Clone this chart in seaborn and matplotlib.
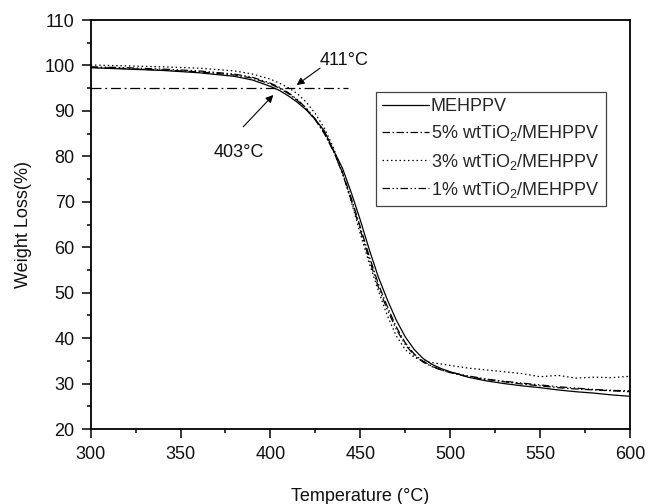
import numpy as np
import pandas as pd
import matplotlib
matplotlib.use("Agg")
import matplotlib.pyplot as plt
from matplotlib.ticker import MultipleLocator
import seaborn as sns

# ---- data ----
temperature = [300, 320, 340, 360, 380, 390, 400, 405, 410, 415, 420, 425, 430, 435,
               440, 445, 450, 455, 460, 465, 470, 475, 480, 485, 490, 495, 500,
               510, 520, 530, 540, 550, 560, 570, 580, 590, 600]

mehppv = [99.5, 99.2, 98.9, 98.4, 97.6, 96.8, 95.4, 94.5, 93.3, 91.9, 90.2, 88.1, 85.6, 81.4,
          77.5, 72.0, 66.0, 59.5, 53.5, 48.5, 44.0, 40.3, 37.5, 35.5, 34.2, 33.3, 32.6,
          31.4, 30.6, 30.0, 29.5, 29.1, 28.6, 28.2, 27.9, 27.5, 27.2]

tio2_5 = [99.6, 99.3, 99.0, 98.6, 97.9, 97.2, 95.9, 95.0, 93.8, 92.3, 90.4, 88.0, 85.0, 81.2,
          76.5, 70.8, 64.5, 58.0, 52.0, 47.0, 42.5, 39.0, 36.5, 34.9, 33.8, 33.0, 32.4,
          31.5, 30.9, 30.4, 29.9, 29.5, 29.1, 28.8, 28.6, 28.4, 28.2]

tio2_3 = [100.1, 99.9, 99.7, 99.4, 98.8, 98.1, 97.0, 96.1, 95.1, 93.8, 91.9, 89.4, 86.2, 82.0,
          76.5, 70.0, 63.0, 56.5, 50.5, 45.0, 40.5, 37.5, 35.8, 35.0, 34.6, 34.3, 34.0,
          33.4, 33.0, 32.6, 32.2, 31.5, 31.8, 31.2, 31.4, 31.3, 31.6]

tio2_1 = [99.7, 99.5, 99.2, 98.8, 98.1, 97.4, 96.1, 95.2, 94.0, 92.5, 90.6, 88.2, 85.2, 81.3,
          76.3, 70.3, 63.8, 57.3, 51.3, 46.3, 42.0, 38.6, 36.2, 34.7, 33.7, 33.0, 32.5,
          31.7, 31.0, 30.5, 30.1, 29.7, 29.3, 29.0, 28.7, 28.5, 28.4]

series_labels = ["MEHPPV",
                 "5% wtTiO$_2$/MEHPPV",
                 "3% wtTiO$_2$/MEHPPV",
                 "1% wtTiO$_2$/MEHPPV"]

onset_level = 95.0
onset_x = [300, 443]
x_ticks = [300, 350, 400, 450, 500, 550, 600]
y_ticks = [20, 30, 40, 50, 60, 70, 80, 90, 100, 110]

# ---- style ----
sns.set_theme(style="ticks")
plt.rcParams["font.family"] = ["Liberation Sans", "DejaVu Sans"]
plt.rcParams["mathtext.fontset"] = "custom"
plt.rcParams["mathtext.rm"] = "Liberation Sans"
plt.rcParams["mathtext.it"] = "Liberation Sans:italic"
plt.rcParams["mathtext.bf"] = "Liberation Sans:bold"

fig = plt.figure(figsize=(6.5, 5.04), dpi=100)
ax = fig.add_axes([0.1395, 0.1488, 0.8295, 0.8115])

styles = ["-", (0, (6, 2, 1.2, 2)), (0, (1.2, 2.2)), (0, (6, 2, 1.2, 2, 1.2, 2))]
for vals, lab, ls in zip([mehppv, tio2_5, tio2_3, tio2_1], series_labels, styles):
    df = pd.DataFrame({"T": temperature, "W": vals})
    sns.lineplot(data=df, x="T", y="W", ax=ax, color="black", lw=0.9,
                 linestyle=ls, label=lab)

# onset reference line
sns.lineplot(x=onset_x, y=[onset_level, onset_level], ax=ax, color="black", lw=0.9,
             linestyle=(0, (8, 3, 1.5, 3)), legend=False)

ax.set_xlim(300, 600)
ax.set_ylim(20, 110)
ax.set_xticks(x_ticks)
ax.set_yticks(y_ticks)
ax.xaxis.set_minor_locator(MultipleLocator(25))
ax.yaxis.set_minor_locator(MultipleLocator(5))
ax.tick_params(which="major", direction="out", length=6.5, width=1.1,
               labelsize=13, color="black", labelcolor="#111111", pad=5)
ax.tick_params(which="minor", direction="out", length=3.2, width=1.1, color="black")
ax.tick_params(axis="x", which="major", pad=6)
for s in ax.spines.values():
    s.set_linewidth(1.3)
    s.set_color("black")
    s.set_visible(True)

ax.set_xlabel("Temperature (\u00b0C)", fontsize=13, labelpad=18, color="#111111")
ax.set_ylabel("Weight Loss(%)", fontsize=13, labelpad=9, color="#111111")

# annotations
ax.annotate("", xy=(414.6, 95.7), xytext=(427.6, 99.4),
            arrowprops=dict(arrowstyle="-|>", lw=0.8, color="black", mutation_scale=11,
                            shrinkA=0, shrinkB=0))
ax.text(441, 101.1, "411\u00b0C", fontsize=13, ha="center", va="center", color="#111111")
ax.annotate("", xy=(401.6, 93.5), xytext=(384.9, 86.5),
            arrowprops=dict(arrowstyle="-|>", lw=0.8, color="black", mutation_scale=11,
                            shrinkA=0, shrinkB=0))
ax.text(382.6, 80.85, "403\u00b0C", fontsize=13, ha="center", va="center", color="#111111")

leg = ax.legend(loc="upper left", bbox_to_anchor=(0.529, 0.824), borderaxespad=0,
                fontsize=13, frameon=True, fancybox=False, framealpha=1,
                edgecolor="#444444", handlelength=2.6, handletextpad=0.1,
                borderpad=0.35, labelspacing=0.45)
leg.get_frame().set_linewidth(0.9)

fig.savefig("out.png", dpi=100)
